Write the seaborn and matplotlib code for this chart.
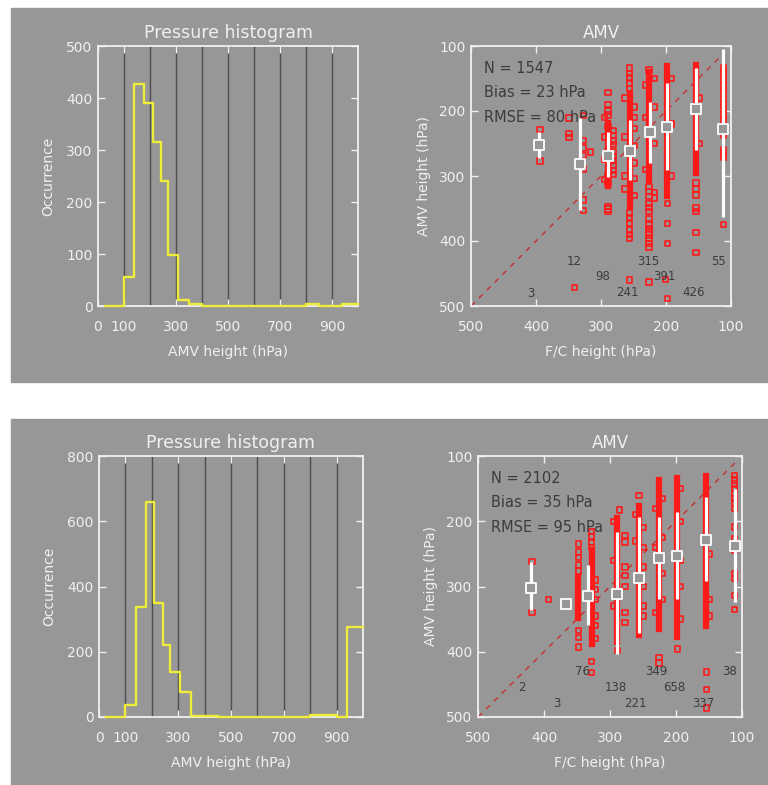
import numpy as np
import matplotlib
matplotlib.use("Agg")
import matplotlib.pyplot as plt
import seaborn as sns

# ======================
# COLOURS / STYLE
# ======================
BG = "#979797"
FG = "#f0f0f0"
DARK = "#3c3c3c"
GRID = "#4e4e4e"
YELLOW = "#eeee3a"
RED = "#ff1a1a"

plt.rcParams["font.family"] = ["DejaVu Sans"]
plt.rcParams["font.size"] = 10

# ======================
# HISTOGRAM DATA
# ======================
hist_top_edges = [25, 100, 140, 178, 212, 243, 271, 309, 350, 400, 800, 850, 940, 1000]
hist_top_counts = [0, 55, 426, 391, 315, 241, 98, 12, 3, 0, 3, 0, 3]

hist_bot_edges = [25, 100, 140, 177, 208, 242, 270, 306, 350, 400, 450, 800, 900, 940, 1000]
hist_bot_counts = [0, 38, 337, 658, 349, 221, 138, 76, 3, 2, 0, 5, 0, 275]

hist_xticks = [0, 100, 300, 500, 700, 900]
hist_vlines = [100, 200, 300, 400, 500, 600, 700, 800, 900]

# ======================
# SCATTER DATA - TOP PANEL
# ======================
top_stats = ["N = 1547", "Bias = 23 hPa", "RMSE = 80 hPa"]

top_grp_x = [394, 349, 327, 316, 341, 289, 281, 295, 256, 248, 263,
             226, 218, 232, 198, 201, 192, 154, 149, 112]
top_grp_y = [
    [228, 251, 277],
    [211, 235, 241],
    [207, 245, 257, 268, 289, 337, 353],
    [263],
    [472],
    [172, 190, 200, 206, 224, 262, 300, 312, 347, 351, 355],
    [230, 238, 246, 252, 262, 270, 276, 284, 292, 298],
    [210, 240, 275, 305],
    [134, 142, 149, 157, 165, 357, 364, 373, 383, 390, 396, 460],
    [194, 210, 227, 253, 280, 304, 330],
    [180, 240, 300, 320],
    [137, 316, 324, 332, 342, 348, 355, 366, 374, 381, 386, 391, 396, 404, 409, 463],
    [150, 194, 250, 325, 334],
    [160, 210, 290],
    [342, 373, 404, 488],
    [459],
    [150, 220, 300],
    [311, 320, 329, 349, 355, 387, 418],
    [180, 250],
    [134, 140, 147, 153, 160, 167, 174, 182, 190, 198, 206, 214, 222, 230,
     238, 260, 266, 272, 375],
]

# dense runs of overlapping points
top_run_x = [289, 256, 226, 198, 154]
top_run_y0 = [218, 173, 140, 130, 129]
top_run_y1 = [316, 347, 307, 330, 296]

top_bin_x = [396, 333, 289, 256, 225, 198, 154, 112]
top_bin_mean = [252, 282, 269, 261, 233, 224, 197, 227]
top_bin_lo = [232, 211, 232, 214, 186, 157, 134, 104]
top_bin_hi = [272, 353, 301, 306, 280, 291, 260, 363]

top_cnt_x = [408, 342, 297, 259, 228, 203, 157, 120]
top_cnt_y = [481, 431, 455, 480, 431, 455, 480, 431]
top_cnt = ["3", "12", "98", "241", "315", "391", "426", "55"]

top_diag = [500, 118]

# ======================
# SCATTER DATA - BOTTOM PANEL
# ======================
bot_stats = ["N = 2102", "Bias = 35 hPa", "RMSE = 95 hPa"]

bot_grp_x = [418, 393, 366, 348, 328, 323, 289, 286, 277, 295, 256, 250, 261,
             226, 220, 231, 198, 193, 154, 149, 111]
bot_grp_y = [
    [262, 340],
    [320],
    [325, 329],
    [235, 247, 256, 267, 276, 367, 378, 393],
    [216, 224, 232, 240, 415, 432],
    [290, 305, 320, 345, 360, 380],
    [398],
    [183],
    [222, 232, 270, 283, 300, 340, 355],
    [200, 260, 330],
    [161],
    [210, 240, 270, 300, 330, 345],
    [190, 230],
    [409, 417],
    [165, 225, 280, 320],
    [180, 240, 340],
    [396],
    [150, 200, 260, 300, 350],
    [431, 458, 486],
    [250, 320, 345],
    [130, 137, 143, 150, 157, 165, 172, 180, 209, 226, 240, 244, 280, 288, 314, 335],
]

bot_run_x = [348, 328, 289, 256, 226, 198, 154]
bot_run_y0 = [285, 244, 195, 176, 137, 134, 130]
bot_run_y1 = [349, 388, 385, 375, 365, 377, 360]

bot_bin_x = [419, 366, 334, 289, 256, 226, 198, 154, 111]
bot_bin_mean = [302, 327, 315, 312, 287, 256, 253, 228, 238]
bot_bin_lo = [262, 325, 267, 216, 193, 193, 186, 163, 151]
bot_bin_hi = [336, 329, 359, 404, 372, 319, 319, 292, 323]

bot_cnt_x = [433, 380, 342, 291, 261, 230, 202, 158, 119]
bot_cnt_y = [455, 480, 430, 455, 480, 430, 455, 480, 430]
bot_cnt = ["2", "3", "76", "138", "221", "349", "658", "337", "38"]

bot_diag = [500, 108]

scatter_ticks = [100, 200, 300, 400, 500]


# ======================
# HELPERS
# ======================
def style_axes(ax):
    ax.set_facecolor(BG)
    for sp in ax.spines.values():
        sp.set_color(FG)
        sp.set_linewidth(1.3)
    ax.tick_params(axis="both", which="both", direction="in", length=5,
                   color=FG, labelcolor=FG, labelsize=10, width=1,
                   top=True, right=True)
    ax.tick_params(axis="x", pad=10)
    ax.tick_params(axis="y", pad=4)


def draw_hist(ax, edges, counts, ymax, yticks):
    e = np.array(edges, dtype=float)
    centers = (e[:-1] + e[1:]) / 2
    for v in hist_vlines:
        ax.axvline(v, color=GRID, linewidth=1, zorder=1)
    sns.histplot(x=list(centers), weights=list(counts), bins=list(edges),
                 element="step", fill=False, color=YELLOW, linewidth=1.7, ax=ax)
    ax.lines[-1].set_zorder(4)
    ax.lines[-1].set_clip_on(False)
    ax.set_xlim(0, 1000)
    ax.set_ylim(0, ymax)
    ax.set_xticks(hist_xticks)
    ax.set_yticks(yticks)
    style_axes(ax)
    ax.set_title("Pressure histogram", color=FG, fontsize=12.5, pad=6)
    ax.set_xlabel("AMV height (hPa)", color=FG, fontsize=10, labelpad=8)
    ax.set_ylabel("Occurrence", color=FG, fontsize=10, labelpad=8)


def draw_scatter(ax, grp_x, grp_y, run_x, run_y0, run_y1,
                 bin_x, bin_mean, bin_lo, bin_hi,
                 cnt_x, cnt_y, cnt, stats, diag):
    ax.plot(diag, diag, color="#c83030", linewidth=1, dashes=(4, 4), zorder=2)
    px, py = [], []
    for gx, gy in zip(grp_x, grp_y):
        px.extend([gx] * len(gy))
        py.extend(gy)
    ax.vlines(run_x, run_y0, run_y1, colors=RED, linewidth=4.5,
              capstyle="projecting", zorder=3)
    sns.scatterplot(x=px, y=py, marker="s", s=15, facecolor="none",
                    edgecolor=RED, linewidth=1.2, ax=ax, zorder=3)
    ax.vlines(bin_x, bin_lo, bin_hi, colors="white", linewidth=2.3, zorder=5)
    sns.scatterplot(x=bin_x, y=bin_mean, marker="s", s=45, facecolor=BG,
                    edgecolor="white", linewidth=1.3, ax=ax, zorder=6)
    for x, y, t in zip(cnt_x, cnt_y, cnt):
        ax.text(x, y, t, color=DARK, fontsize=8.5, ha="center", va="center")
    for i, t in enumerate(stats):
        ax.text(0.05, 0.915 - i * 0.095, t, transform=ax.transAxes,
                color=DARK, fontsize=10.5, ha="left", va="center")
    ax.set_xlim(500, 100)
    ax.set_ylim(500, 100)
    ax.set_xticks(scatter_ticks)
    ax.set_yticks(scatter_ticks)
    style_axes(ax)
    ax.set_title("AMV", color=FG, fontsize=12, pad=6)
    ax.set_xlabel("F/C height (hPa)", color=FG, fontsize=10, labelpad=8)
    ax.set_ylabel("AMV height (hPa)", color=FG, fontsize=10, labelpad=6)


# ======================
# FIGURE
# ======================
fig = plt.figure(figsize=(7.68, 7.85), dpi=100)
fig.patch.set_facecolor("white")

W, H = 768.0, 785.0
fig.patches.append(plt.Rectangle((11 / W, 1 - 382 / H), 757 / W, 374 / H,
                                 transform=fig.transFigure, color=BG, zorder=-5))
fig.patches.append(plt.Rectangle((11 / W, 0), 757 / W, 366 / H,
                                 transform=fig.transFigure, color=BG, zorder=-5))

ax1 = fig.add_axes([98 / W, 1 - 306 / H, 260 / W, 260 / H])
ax2 = fig.add_axes([471 / W, 1 - 306 / H, 260 / W, 260 / H])
ax3 = fig.add_axes([99 / W, 1 - 717 / H, 264 / W, 261 / H])
ax4 = fig.add_axes([478 / W, 1 - 717 / H, 264 / W, 261 / H])

draw_hist(ax1, hist_top_edges, hist_top_counts, 500, [0, 100, 200, 300, 400, 500])
draw_hist(ax3, hist_bot_edges, hist_bot_counts, 800, [0, 200, 400, 600, 800])

draw_scatter(ax2, top_grp_x, top_grp_y, top_run_x, top_run_y0, top_run_y1,
             top_bin_x, top_bin_mean, top_bin_lo, top_bin_hi,
             top_cnt_x, top_cnt_y, top_cnt, top_stats, top_diag)
draw_scatter(ax4, bot_grp_x, bot_grp_y, bot_run_x, bot_run_y0, bot_run_y1,
             bot_bin_x, bot_bin_mean, bot_bin_lo, bot_bin_hi,
             bot_cnt_x, bot_cnt_y, bot_cnt, bot_stats, bot_diag)

fig.savefig("out.png", dpi=100, facecolor=fig.get_facecolor())
